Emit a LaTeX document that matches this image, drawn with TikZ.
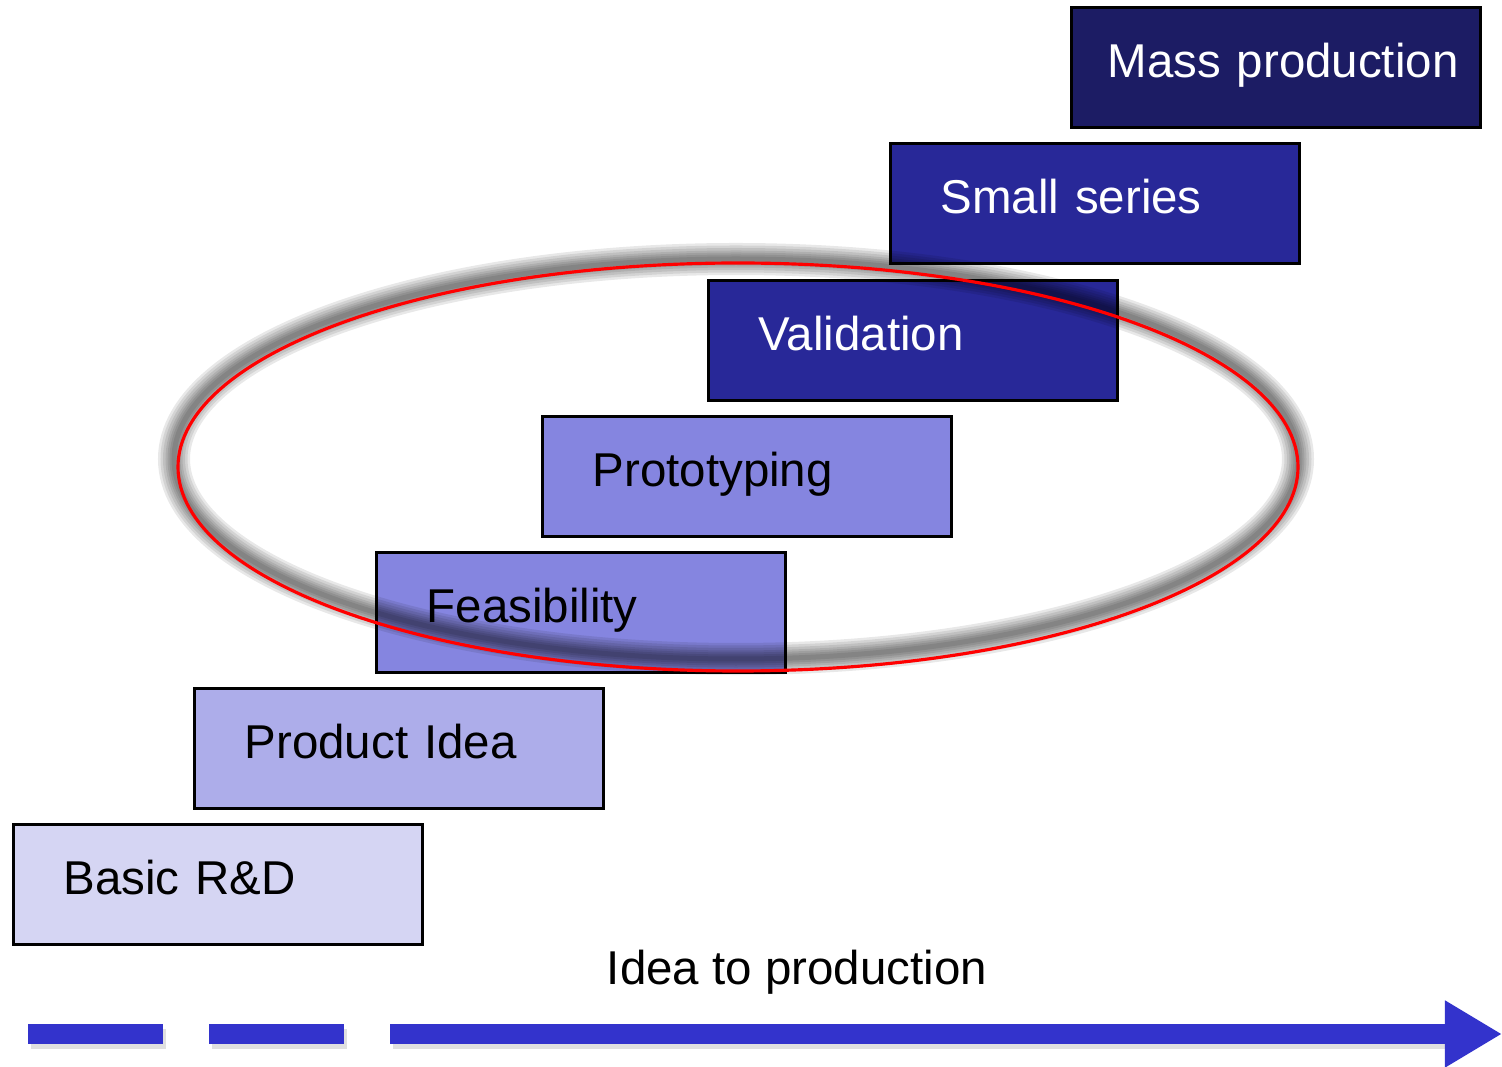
\documentclass[tikz,border=0pt]{standalone}
\usepackage{fontspec}
\setmainfont{Liberation Sans}
\usetikzlibrary{arrows.meta}
\definecolor{stageA}{RGB}{213,213,243}
\definecolor{stageB}{RGB}{173,173,234}
\definecolor{stageC}{RGB}{133,133,224}
\definecolor{stageD}{RGB}{40,40,152}
\definecolor{stageE}{RGB}{28,28,100}
\definecolor{flowblue}{RGB}{51,51,204}
\tikzset{%
  stage/.style  = {draw=black, line width=0.9pt, rectangle, anchor=north west,
    minimum width=4.09cm, minimum height=1.2cm, inner xsep=0.5cm,
    text width=3.09cm, text depth=0.14cm, align=left,
    font=\fontsize{13.5pt}{16pt}\selectfont},
  light/.style  = {stage, text=black},
  dark/.style   = {stage, text=white},
  flow/.style   = {line width=0.2cm, draw=flowblue},
  halo/.style   = {draw=black, opacity=0.09}
}
\begin{document}
\begin{tikzpicture}[x=0.01cm, y=-0.01cm]
    \useasboundingbox (0,0) rectangle (1502,1067);

    %stages
    \node[light, fill=stageA] (basic) at (12,823) {Basic R\&D};
    \node[light, fill=stageB] (idea) at (193,687) {Product Idea};
    \node[light, fill=stageC] (feas) at (375,551) {Feasibility};
    \node[light, fill=stageC] (proto) at (541,415) {Prototyping};
    \node[dark, fill=stageD] (valid) at (707,279) {Validation};
    \node[dark, fill=stageD] (small) at (889,142) {Small series};
    \node[dark, fill=stageE, inner xsep=0.36cm, text width=3.37cm] (mass) at (1070,6) {\mbox{Mass production}};

    %focus ellipse with shadow
    \foreach \w in {3.2,2.7,2.2,1.7,1.3,0.9,0.5}
      \draw[halo, line width=\w mm] (736,459) ellipse [x radius=562, y radius=200];
    \draw[red, line width=0.9pt] (738,467) ellipse [x radius=560, y radius=204];

    %time axis
    \coordinate (dashA) at (28,1034);
    \coordinate (dashB) at (345,1034);
    \coordinate (axisA) at (390,1034);
    \coordinate (axisB) at (1502,1034);
    \draw[flow, draw=black, opacity=0.12, dash pattern=on 1.35cm off 0.46cm] ([shift={(3,5)}]dashA) -- ([shift={(3,5)}]dashB);
    \draw[flow, draw=black, opacity=0.12] ([shift={(3,5)}]axisA) -- ([shift={(3,5)}]1445,1034);
    \draw[flow, dash pattern=on 1.35cm off 0.46cm] (dashA) -- (dashB);
    \draw[flow, -{Triangle[length=0.57cm, width=0.63cm]}] (axisA) -- (axisB);
    \node[font=\fontsize{13.5pt}{16pt}\selectfont] (axislabel) at (797,972) {Idea to production};
\end{tikzpicture}
\end{document}
